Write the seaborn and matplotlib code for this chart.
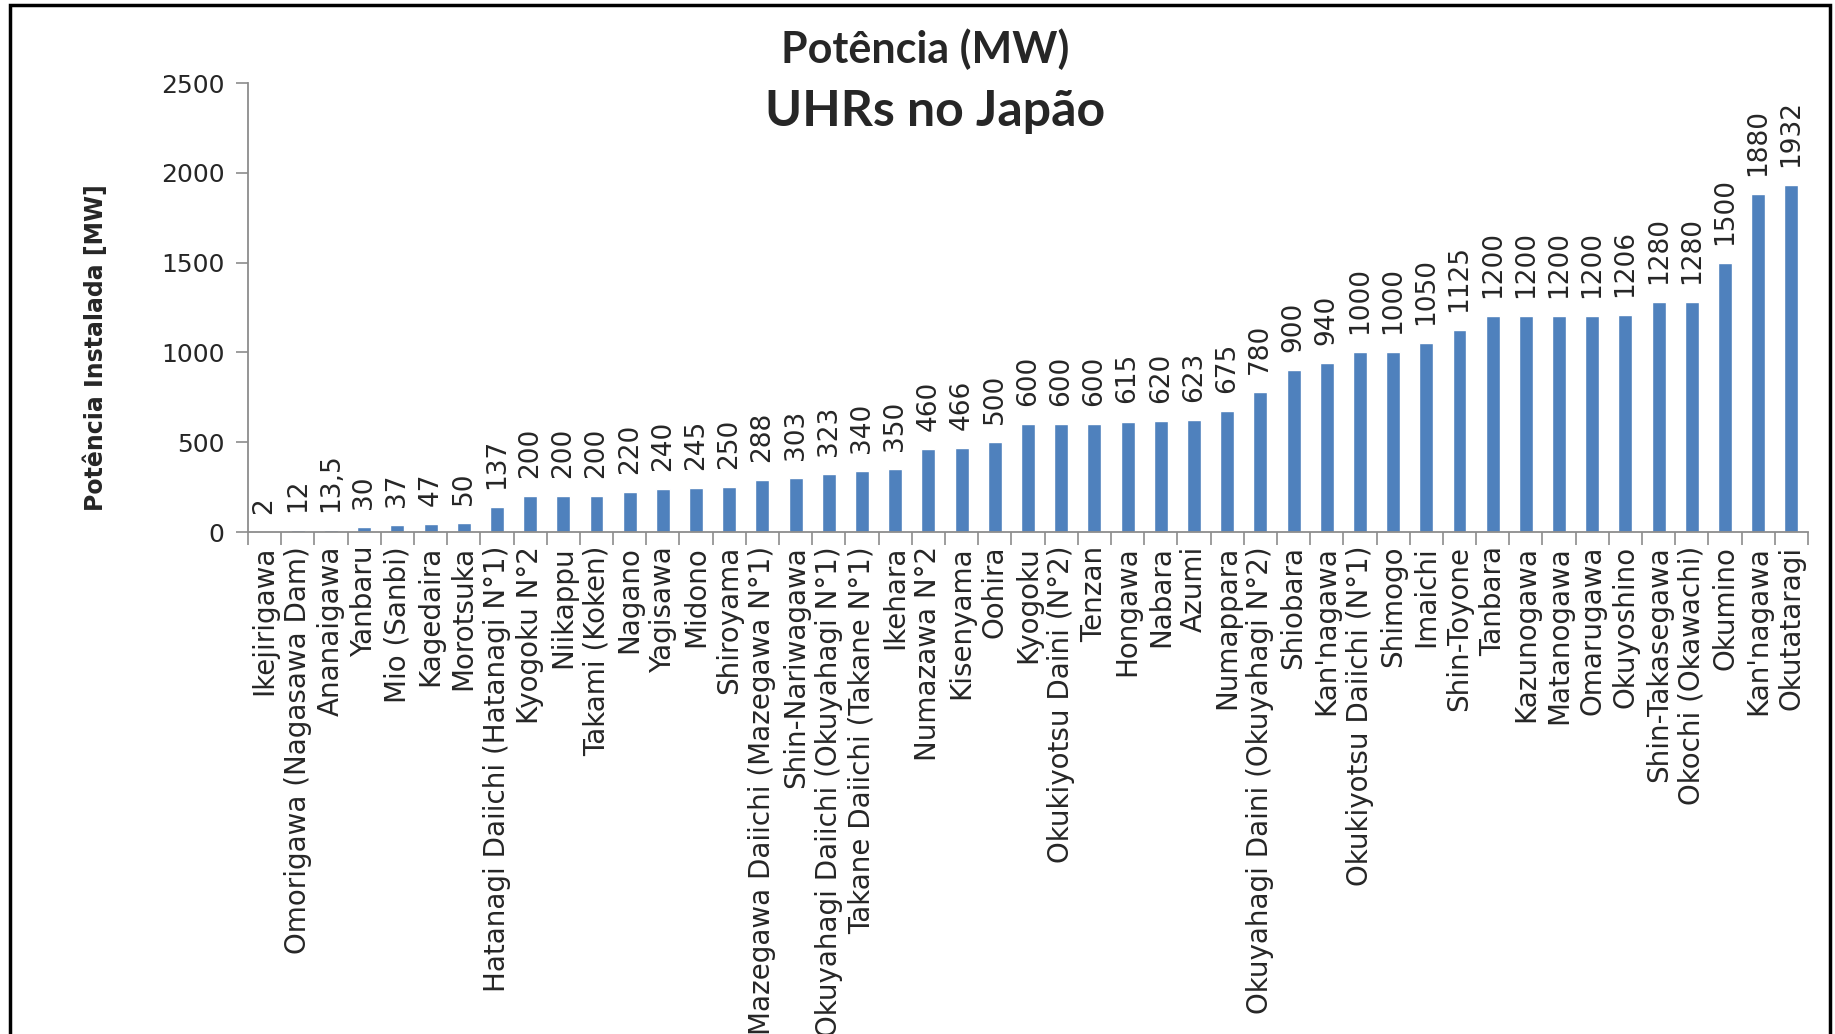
import numpy as np
import pandas as pd
import matplotlib
matplotlib.use("Agg")
import matplotlib.pyplot as plt
import seaborn as sns
from matplotlib.patches import Rectangle

names = [
    "Ikejirigawa", "Omorigawa (Nagasawa Dam)", "Ananaigawa", "Yanbaru", "Mio (Sanbi)",
    "Kagedaira", "Morotsuka", "Hatanagi Daiichi (Hatanagi N°1)", "Kyogoku N°2", "Niikappu",
    "Takami (Koken)", "Nagano", "Yagisawa", "Midono", "Shiroyama",
    "Mazegawa Daiichi (Mazegawa N°1)", "Shin-Nariwagawa", "Okuyahagi Daiichi (Okuyahagi N°1)",
    "Takane Daiichi (Takane N°1)", "Ikehara", "Numazawa N°2", "Kisenyama", "Oohira",
    "Kyogoku", "Okukiyotsu Daini (N°2)", "Tenzan", "Hongawa", "Nabara", "Azumi",
    "Numappara", "Okuyahagi Daini (Okuyahagi N°2)", "Shiobara", "Kan'nagawa",
    "Okukiyotsu Daiichi (N°1)", "Shimogo", "Imaichi", "Shin-Toyone", "Tanbara",
    "Kazunogawa", "Matanogawa", "Omarugawa", "Okuyoshino", "Shin-Takasegawa",
    "Okochi (Okawachi)", "Okumino", "Kan'nagawa", "Okutataragi",
]
values = [
    2, 12, 13.5, 30, 37, 47, 50, 137, 200, 200,
    200, 220, 240, 245, 250, 288, 303, 323, 340, 350,
    460, 466, 500, 600, 600, 600, 615, 620, 623, 675,
    780, 900, 940, 1000, 1000, 1050, 1125, 1200, 1200, 1200,
    1200, 1206, 1280, 1280, 1500, 1880, 1932,
]
yticks = [0, 500, 1000, 1500, 2000, 2500]

title1 = "Potência (MW)"
title2 = "UHRs no Japão"
ylabel = "Potência Instalada [MW]"

sns.set_theme(style="white")
plt.rcParams["font.family"] = ["DejaVu Sans"]

fig = plt.figure(figsize=(18.35, 10.34), dpi=100)
ax = fig.add_axes([248 / 1835, 1 - 532 / 1034, (1808 - 248) / 1835, (532 - 83) / 1034])

n = len(names)
df = pd.DataFrame({"pos": [str(i) for i in range(n)], "value": values})
sns.barplot(data=df, x="pos", y="value", order=list(df["pos"]), color="#4F81BD",
            saturation=1, width=0.42, ax=ax)

ax.set_xlim(-0.5, n - 0.5)
ax.set_ylim(0, 2500)
ax.set_yticks(yticks)
ax.set_yticklabels([str(t) for t in yticks], fontsize=18)
ax.set_xticks(range(n))
ax.set_xticklabels(names, rotation=90, fontsize=20, va="top", ha="center")
ax.set_xticks(np.arange(-0.5, n, 1.0), minor=True)
ax.tick_params(axis="x", which="major", length=0, pad=10)
ax.tick_params(axis="x", which="minor", length=9, width=1.2, color="#8c8c8c", direction="out", bottom=True)
ax.tick_params(axis="y", which="major", length=9, width=1.2, color="#8c8c8c", direction="out", left=True, pad=8)
ax.set_xlabel("")
ax.set_ylabel(ylabel, fontsize=17, fontweight="bold")
ax.yaxis.set_label_coords(-0.090, 0.41)

for side in ["top", "right"]:
    ax.spines[side].set_visible(False)
for side in ["left", "bottom"]:
    ax.spines[side].set_color("#8c8c8c")
    ax.spines[side].set_linewidth(1.3)
ax.grid(False)


def fmt(v):
    return str(int(v)) if float(v).is_integer() else str(v).replace(".", ",")


for i, v in enumerate(values):
    ax.annotate(fmt(v), (i, v), xytext=(0, 13), textcoords="offset points",
                rotation=90, ha="center", va="bottom", fontsize=19)

fig.text(925 / 1835, 1 - 49 / 1034, title1, ha="center", va="center",
         fontsize=31, fontweight="bold", family=["Lato", "DejaVu Sans"])
fig.text(935 / 1835, 1 - 111 / 1034, title2, ha="center", va="center",
         fontsize=36, fontweight="bold", family=["Lato", "DejaVu Sans"])

fig.patches.append(Rectangle((10 / 1835, -0.05), 1820 / 1835, 1.05 - 5 / 1034,
                             transform=fig.transFigure, fill=False,
                             edgecolor="black", linewidth=2.5))

fig.savefig("out.png", dpi=100)
